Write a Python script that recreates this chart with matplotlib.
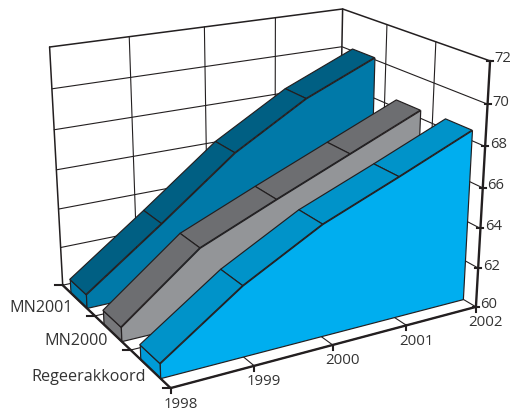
import matplotlib
matplotlib.use("Agg")
import matplotlib.pyplot as plt
from matplotlib.lines import Line2D
from matplotlib.transforms import IdentityTransform
from mpl_toolkits.mplot3d import proj3d
from mpl_toolkits.mplot3d.art3d import Poly3DCollection

plt.rcParams["font.family"] = ["Open Sans", "DejaVu Sans"]

# Series, drawn from the back of the depth axis to the front
years = [1998, 1999, 2000, 2001, 2002]
mn2001 = [60.7, 63.5, 66.4, 68.55, 70.1]
mn2000 = [60.7, 63.7, 65.3, 66.85, 68.4]
regeerakkoord = [60.7, 63.4, 65.45, 66.95, 68.5]
depth_labels = ["Regeerakkoord", "MN2000", "MN2001"]
value_ticks = [60, 62, 64, 66, 68, 70, 72]

INK = "#231F20"
TEXT = "#333333"
W, H = 511, 413

# 3D axes placed so the box fills the figure; the side is in pixels
side = 485.9
left, bottom = 16.1, -15.2
fig = plt.figure(figsize=(W / 100, H / 100), dpi=100)
ax = fig.add_axes([left / W, bottom / H, side / W, side / H], projection="3d",
                  computed_zorder=False)
ax.set_axis_off()
ax.view_init(19.73, -119.76)
ax.set_proj_type("persp", focal_length=0.5175)
ax.set_box_aspect((1.3374, 1.0044, 1.0))
ax.set_xlim(1998, 2002, view_margin=0)
ax.set_ylim(0, 3, view_margin=0)
ax.set_zlim(60, 72, view_margin=0)

x0, x1 = years[0], years[-1]
z0, z1 = value_ticks[0], value_ticks[-1]
n_depth = len(depth_labels)


def line3(xs, ys, zs, lw=0.8, color=INK, zorder=1):
    ax.plot(xs, ys, zs, color=color, lw=lw, solid_capstyle="round", zorder=zorder)


# Walls and floor grid
for z in value_ticks[1:]:
    line3([x0, x1, x1], [n_depth] * 2 + [0], [z, z, z], lw=1.1 if z == z1 else 0.8)
for x in years:
    line3([x, x], [n_depth, n_depth], [z0, z1], lw=1.1 if x in (x0, x1) else 0.8)
    line3([x, x], [0, n_depth], [z0, z0])
for d in range(1, n_depth):
    line3([x1, x1], [d, d], [z0, z1])
for d in range(0, n_depth + 1):
    line3([x0, x1], [d, d], [z0, z0])


def ribbon(values, position, top_color, front_color, end_color, zorder):
    """One 3D area: end cap, sloping top strips and the front face."""
    yf, yb = position + 0.25, position + 0.75
    style = dict(edgecolor=INK, linewidths=0.85, zorder=zorder)
    end = [(x0, yf, z0), (x0, yf, values[0]), (x0, yb, values[0]), (x0, yb, z0)]
    ax.add_collection3d(Poly3DCollection([end], facecolor=end_color, **style))
    strips = [[(years[i], yf, values[i]), (years[i + 1], yf, values[i + 1]),
               (years[i + 1], yb, values[i + 1]), (years[i], yb, values[i])]
              for i in range(len(years) - 1)]
    ax.add_collection3d(Poly3DCollection(strips, facecolor=top_color, **style))
    front = [(x0, yf, z0)] + [(x, yf, v) for x, v in zip(years, values)] + [(x1, yf, z0)]
    ax.add_collection3d(Poly3DCollection([front], facecolor=front_color, **style))


ribbon(mn2001, 2, "#005F83", "#0079A8", "#0079A8", 2)
ribbon(mn2000, 1, "#6D6E71", "#939598", "#77787B", 3)
ribbon(regeerakkoord, 0, "#0093C9", "#00AEEF", "#009BD8", 4)

# Heavy axis lines
line3([x0, x1], [0, 0], [z0, z0], lw=1.7, zorder=6)
line3([x0, x0], [0, n_depth], [z0, z0], lw=1.7, zorder=6)
line3([x1, x1], [0, 0], [z0, z1], lw=1.7, zorder=6)

M = ax.get_proj()


def to_pixels(x, y, z):
    xs, ys, _ = proj3d.proj_transform(x, y, z, M)
    return ax.transData.transform((xs, ys))


def tick(point, d0, d1):
    px, py = to_pixels(*point)
    fig.add_artist(Line2D([px + d0[0], px + d1[0]], [py + d0[1], py + d1[1]],
                          color=INK, lw=1.5, transform=IdentityTransform()))


def label(text, point, offset, ha, size):
    xs, ys, _ = proj3d.proj_transform(*point, M)
    ax.annotate(text, (xs, ys), xytext=offset, textcoords="offset pixels",
                ha=ha, va="center", fontsize=size, color=TEXT, zorder=7,
                annotation_clip=False)


for x in years:
    tick((x, 0, z0), (0, 0), (0, -5))
    label(str(x), (x, 0, z0), (10, -16), "center", 10.8)

for z in value_ticks:
    tick((x1, 0, z), (-3, 0), (3, 0))
    label(str(z), (x1, 0, z), (4.5, 2), "left", 10.6)

for d in range(0, n_depth + 1):
    tick((x0, d, z0), (-8, 0), (0, 0))

label_offsets = [(-4, -8), (-5, -8), (-6, -8)]
for d, (text, offset) in enumerate(zip(depth_labels, label_offsets)):
    label(text, (x0, d + 0.5, z0), offset, "right", 11.6)

fig.savefig("out.png", dpi=100)
